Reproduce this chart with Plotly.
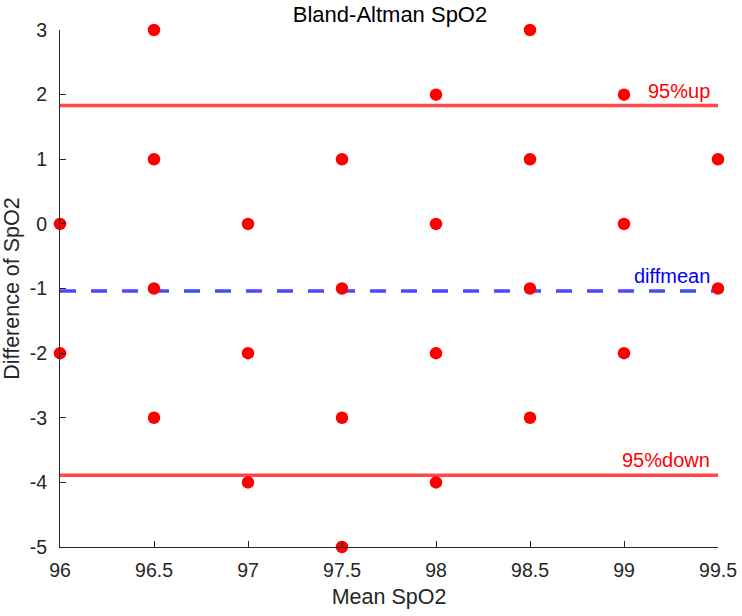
import plotly.graph_objects as go

mean_spo2 = [96, 96, 96.5, 96.5, 96.5, 96.5, 97, 97, 97, 97.5, 97.5, 97.5, 97.5,
             98, 98, 98, 98, 98.5, 98.5, 98.5, 98.5, 99, 99, 99, 99.5, 99.5]
diff_spo2 = [0, -2, 3, 1, -1, -3, 0, -2, -4, 1, -1, -3, -5,
             2, 0, -2, -4, 3, 1, -1, -3, 2, 0, -2, 1, -1]
up95 = 1.83
diffmean = -1.04
down95 = -3.89
x_range = [96, 99.5]
x_ticks = [96, 96.5, 97, 97.5, 98, 98.5, 99, 99.5]
y_ticks = [-5, -4, -3, -2, -1, 0, 1, 2, 3]

font = "Liberation Sans, Arial, sans-serif"
axcol = "#262626"
red_line = "rgba(255,40,40,0.85)"

fig = go.Figure()
fig.add_trace(go.Scatter(x=x_range, y=[up95, up95], mode="lines",
                         line=dict(color=red_line, width=3.5), hoverinfo="skip"))
fig.add_trace(go.Scatter(x=x_range, y=[down95, down95], mode="lines",
                         line=dict(color=red_line, width=3.5), hoverinfo="skip"))
fig.add_trace(go.Scatter(x=x_range, y=[diffmean, diffmean], mode="lines",
                         line=dict(color="rgba(40,40,255,0.85)", width=3.5, dash="16px,15px"),
                         hoverinfo="skip"))
fig.add_trace(go.Scatter(x=mean_spo2, y=diff_spo2, mode="markers",
                         marker=dict(color="#ff0000", size=12.5), cliponaxis=False))

for val, txt, col in [(up95, "95%up", "#ff0000"), (diffmean, "diffmean", "#0000ff"),
                      (down95, "95%down", "#ff0000")]:
    fig.add_annotation(x=x_range[1], y=val, xref="x", yref="y", text=txt,
                       showarrow=False, xanchor="right", yanchor="bottom",
                       xshift=-6, yshift=2, font=dict(color=col, size=20, family=font))

fig.update_layout(
    width=742, height=616,
    margin=dict(l=60, r=24, t=30, b=69, autoexpand=False),
    plot_bgcolor="white", paper_bgcolor="white",
    showlegend=False,
    font=dict(family=font, size=19.5, color=axcol),
    title=dict(text="Bland-Altman SpO2", x=390 / 742, xanchor="center",
               y=1 - 14 / 616, yanchor="middle",
               font=dict(size=22, color="#000000")),
)
fig.update_xaxes(range=x_range, tickvals=x_ticks, ticktext=[f"{v:g}" for v in x_ticks],
                 showgrid=False, zeroline=False, showline=True, linecolor=axcol, linewidth=1,
                 ticks="inside", ticklen=6, tickcolor=axcol, automargin=False,
                 ticklabelstandoff=6,
                 title=dict(text="Mean SpO2", standoff=8, font=dict(size=21.5)))
fig.update_yaxes(range=[-5, 3], tickvals=y_ticks, ticktext=[f"{v:g}" for v in y_ticks],
                 showgrid=False, zeroline=False,
                 showline=True, linecolor=axcol, linewidth=1,
                 ticks="inside", ticklen=6, tickcolor=axcol, automargin=False,
                 ticklabelstandoff=8,
                 title=dict(text="Difference of SpO2", standoff=10, font=dict(size=21.5)))

fig.write_html("out.html")
